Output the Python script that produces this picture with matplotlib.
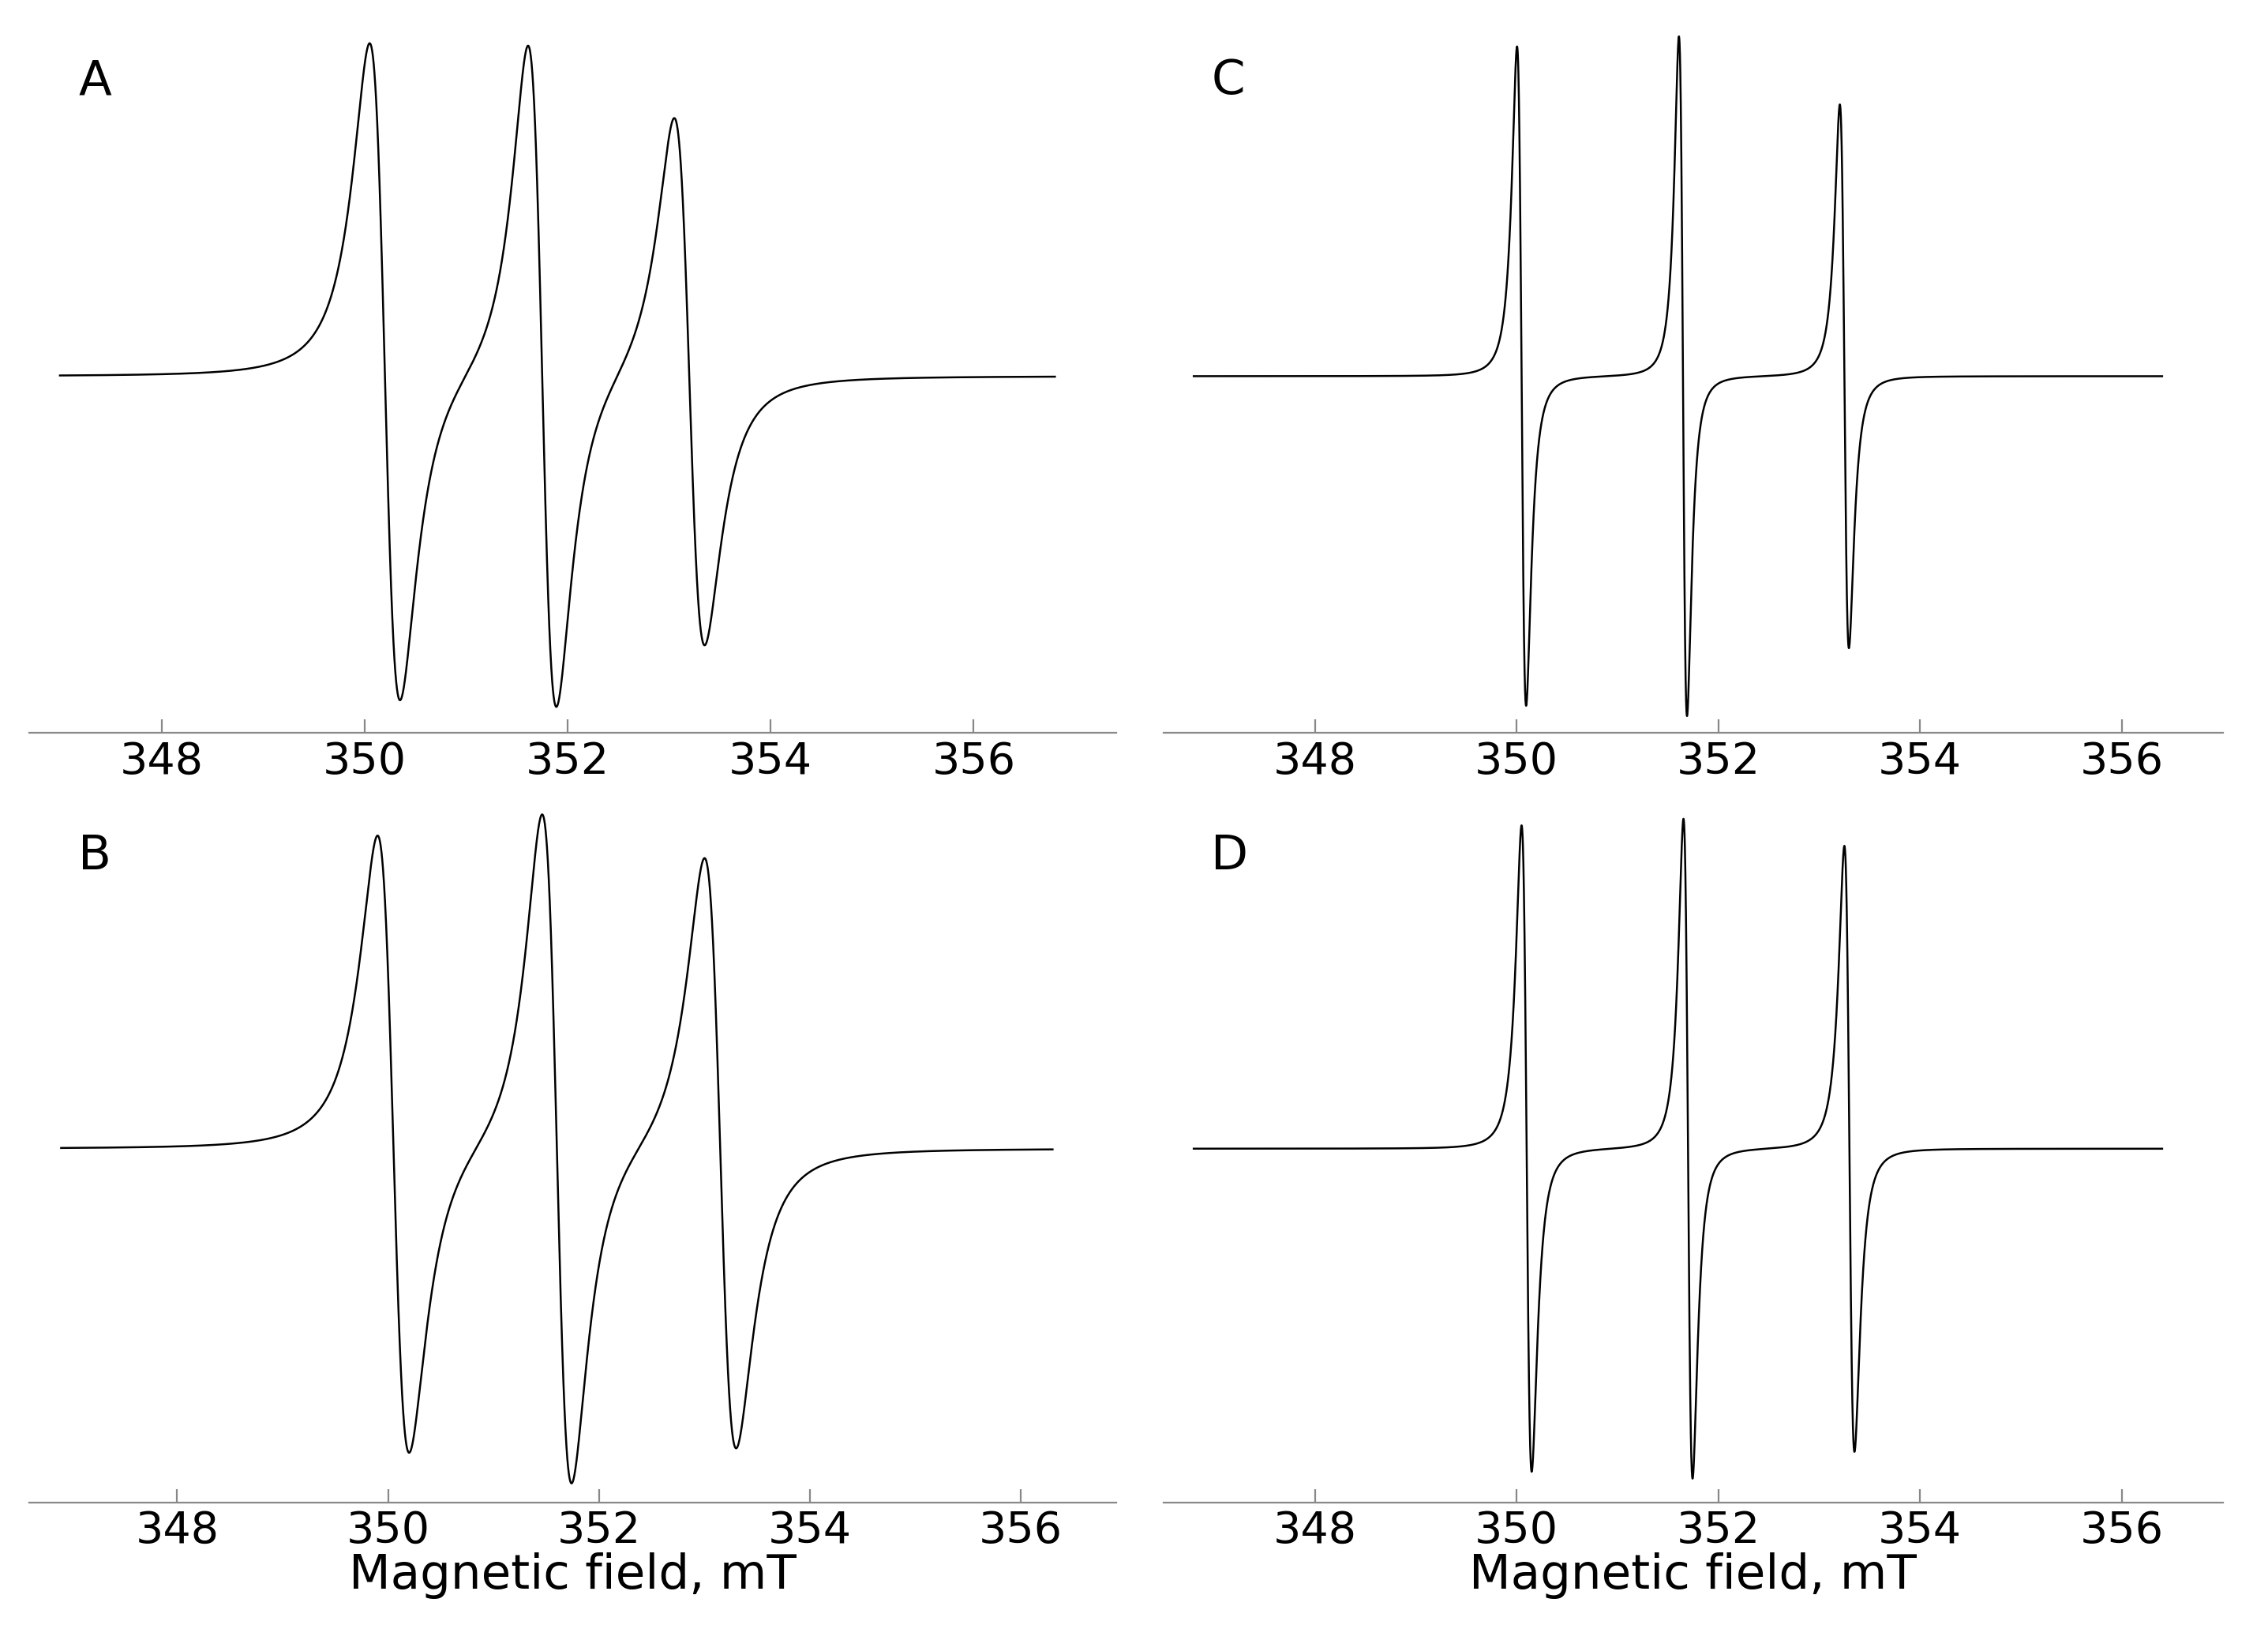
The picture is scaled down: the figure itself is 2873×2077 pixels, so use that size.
import matplotlib.pyplot as plt
import numpy as np

# line centres (mT), peak-to-peak widths (mT) and relative amplitudes per panel
centers_A = [350.20, 351.75, 353.20]
widths_A = [0.30, 0.28, 0.30]
amps_A = [0.97, 0.98, 0.78]

centers_B = [350.05, 351.60, 353.15]
widths_B = [0.30, 0.28, 0.30]
amps_B = [0.92, 1.00, 0.88]

centers_C = [350.05, 351.65, 353.25]
widths_C = [0.09, 0.08, 0.09]
amps_C = [0.97, 1.00, 0.80]

centers_D = [350.10, 351.70, 353.30]
widths_D = [0.10, 0.09, 0.10]
amps_D = [0.96, 0.98, 0.90]

panels = {
    "A": (centers_A, widths_A, amps_A, (346.7, 357.4)),
    "B": (centers_B, widths_B, amps_B, (346.6, 356.9)),
    "C": (centers_C, widths_C, amps_C, (346.5, 357.0)),
    "D": (centers_D, widths_D, amps_D, (346.5, 357.0)),
}
positions = {
    "A": [0.013, 0.553, 0.479, 0.429],
    "B": [0.013, 0.084, 0.479, 0.425],
    "C": [0.513, 0.553, 0.467, 0.429],
    "D": [0.513, 0.084, 0.467, 0.425],
}


def spectrum(field, centers, widths, amps):
    # first-derivative Lorentzian lines, peak normalised to amplitude
    y = np.zeros_like(field)
    for c, w, a in zip(centers, widths, amps):
        g = w * np.sqrt(3) / 2
        u = (field - c) / g
        y += -a * u / (1 + u ** 2) ** 2 / 0.3248
    return y


fig = plt.figure(figsize=(14.365, 10.385), dpi=200)
for name, (centers, widths, amps, xlim) in panels.items():
    ax = fig.add_axes(positions[name])
    field = np.linspace(xlim[0] + 0.3, xlim[1] - 0.6, 8000)
    ax.plot(field, spectrum(field, centers, widths, amps), color="black", lw=0.9)
    ax.set_xlim(*xlim)
    ax.set_ylim(-1.05, 1.02)
    ax.set_xticks([348, 350, 352, 354, 356])
    ax.tick_params(axis="x", labelsize=20, direction="in", length=6, color="#888888")
    ax.set_yticks([])
    for s in ["left", "right", "top"]:
        ax.spines[s].set_visible(False)
    ax.spines["bottom"].set_color("#888888")
    ax.text(0.045, 0.96, name, transform=ax.transAxes, fontsize=22, va="top")
    if name in ("B", "D"):
        ax.set_xlabel("Magnetic field, mT", fontsize=22, labelpad=0)

fig.savefig("out.png")
